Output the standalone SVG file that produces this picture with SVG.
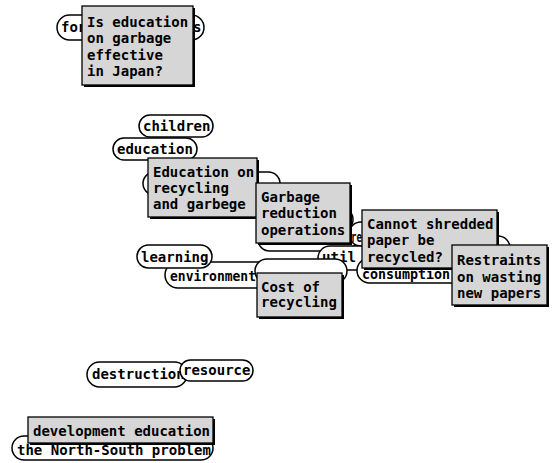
<svg xmlns="http://www.w3.org/2000/svg" width="554" height="463" viewBox="0 0 554 463">
<style>
.pill{fill:#fff;stroke:#000;stroke-width:1.5}
.card{fill:#d6d6d6;stroke:#000;stroke-width:1.3}
.sh{fill:#000}
text{font-family:"DejaVu Sans Mono","Liberation Mono",monospace;font-weight:bold;font-size:14px;fill:#000}
</style>
<rect width="554" height="463" fill="#fff"/>
<g id="connectors"></g>

<g id="pill-for"><rect class="pill" x="57" y="15" width="147" height="25" rx="12.5"/><text x="61" y="32">for</text><text x="193" y="32">s</text></g>
<g id="card-q1"><rect class="sh" x="84" y="8" width="111" height="79"/><rect class="card" x="82" y="6" width="111" height="79"/>
<text x="87" y="27">Is education</text><text x="87" y="43">on garbage</text><text x="87" y="60">effective</text><text x="87" y="76">in Japan?</text></g>

<g id="pill-children"><rect class="pill" x="139" y="115" width="74" height="22" rx="11"/><text x="143" y="131">children</text></g>
<g id="pill-education"><rect class="pill" x="113" y="138" width="84" height="22" rx="11"/><text x="117" y="154">education</text></g>
<g id="pill-hidden1"><rect class="pill" x="143" y="172" width="137" height="23" rx="11.5"/></g>
<g id="card-education"><rect class="sh" x="150" y="160" width="109" height="59"/><rect class="card" x="148" y="158" width="109" height="59"/>
<text x="153" y="177">Education on</text><text x="153" y="193">recycling</text><text x="153" y="209">and garbege</text></g>

<g id="pill-hidden2"><rect class="pill" x="270" y="207" width="83" height="25" rx="12.5"/></g>
<g id="pill-hidden4"><rect class="pill" x="258" y="228" width="98" height="23" rx="11.5"/></g>
<g id="pill-re"><rect class="pill" x="349" y="222" width="80" height="24" rx="12"/><text x="351" y="242" textLength="11" lengthAdjust="spacingAndGlyphs">re</text></g>
<g id="pill-util"><rect class="pill" x="318" y="246" width="80" height="24" rx="12"/><text x="322" y="262" textLength="34" lengthAdjust="spacingAndGlyphs">util</text></g>
<g id="card-garbage"><rect class="sh" x="258" y="185" width="94" height="60"/><rect class="card" x="256" y="183" width="94" height="60"/>
<text x="261" y="202">Garbage</text><text x="261" y="218">reduction</text><text x="261" y="235">operations</text></g>

<g id="pill-environment"><rect class="pill" x="165" y="262" width="110" height="26" rx="13"/><text x="170" y="281" textLength="86" lengthAdjust="spacingAndGlyphs">environment</text></g>
<g id="pill-learning"><rect class="pill" x="137" y="245" width="75" height="23" rx="11.5"/><text x="141" y="262">learning</text></g>
<g id="pill-hidden6"><rect class="pill" x="255" y="259" width="92" height="24" rx="12"/></g>
<g id="card-cost"><rect class="sh" x="259" y="275" width="85" height="44"/><rect class="card" x="257" y="273" width="85" height="44"/>
<text x="261" y="292">Cost of</text><text x="261" y="307">recycling</text></g>

<g id="pill-hidden7"><rect class="pill" x="420" y="236" width="90" height="24" rx="12"/></g>
<g id="pill-consumption"><rect class="pill" x="357" y="258" width="120" height="25" rx="12.5"/><text x="362" y="279" textLength="88" lengthAdjust="spacingAndGlyphs">consumption</text></g>
<g id="card-cannot"><rect class="sh" x="364" y="212" width="135" height="58"/><rect class="card" x="362" y="210" width="135" height="58"/>
<text x="367" y="229">Cannot shredded</text><text x="367" y="245">paper be</text><text x="367" y="262">recycled?</text></g>
<g id="card-restraints"><rect class="sh" x="454" y="247" width="95" height="60"/><rect class="card" x="452" y="245" width="95" height="60"/>
<text x="457" y="265">Restraints</text><text x="457" y="282">on wasting</text><text x="457" y="298">new papers</text></g>

<g id="pill-destruction"><rect class="pill" x="87" y="362" width="100" height="25" rx="12.5"/><text x="92" y="379">destruction</text></g>
<g id="pill-resource"><rect class="pill" x="180" y="360" width="73" height="21" rx="10.5"/><text x="183" y="375">resource</text></g>

<g id="pill-northsouth"><rect class="pill" x="12" y="436" width="201" height="24" rx="12"/><text x="17" y="455">the North-South problem</text></g>
<g id="card-development"><rect class="sh" x="30" y="419" width="185" height="26"/><rect class="card" x="28" y="417" width="185" height="26"/>
<text x="33" y="436">development education</text></g>
</svg>
